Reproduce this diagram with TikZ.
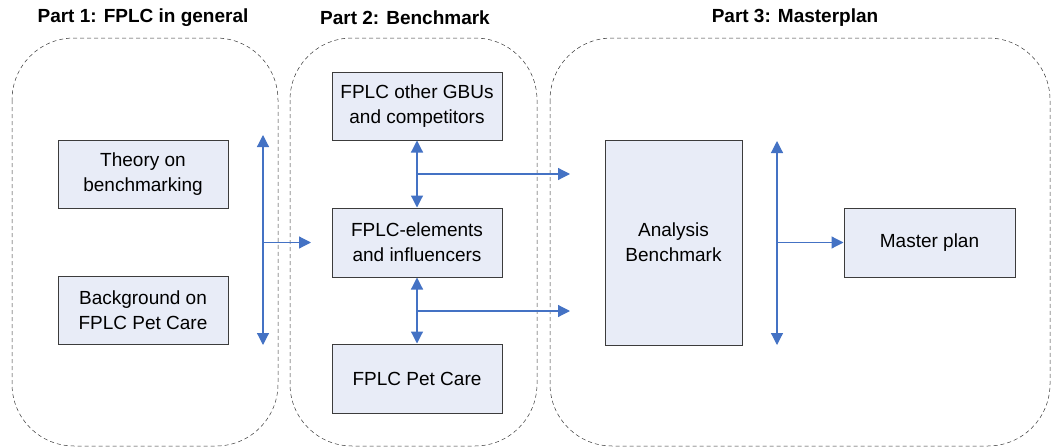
\documentclass[tikz,border=0pt]{standalone}
\usepackage{fontspec}
\setmainfont{Liberation Sans}
\usetikzlibrary{arrows.meta}
\definecolor{boxfill}{RGB}{232,236,247}
\definecolor{boxline}{RGB}{60,60,60}
\definecolor{arrowblue}{RGB}{68,114,196}
\definecolor{dashgray}{RGB}{50,50,50}
\tikzset{
  container/.style={draw=dashgray, line width=0.5pt, dash pattern=on 4pt off 3pt, rounded corners=62pt},
  box/.style={draw=boxline, fill=boxfill, line width=1pt, rectangle, inner sep=0pt, align=center,
    font=\fontsize{19}{25}\selectfont},
  title/.style={font=\fontsize{19}{22}\selectfont\bfseries, anchor=center},
  link/.style={draw=arrowblue, line width=1.2pt},
  tip/.style={-{Triangle[length=12pt,width=12pt]}},
  dtip/.style={{Triangle[length=12pt,width=12pt]}-{Triangle[length=12pt,width=12pt]}}
}
\begin{document}
\begin{tikzpicture}[x=1pt,y=-1pt]
\useasboundingbox (0,0) rectangle (1053,447);
% containers
\begin{scope}
\clip (0,0) rectangle (1053,447);
\draw[container] (12,38) rectangle (278,446);
\draw[container] (290,38) rectangle (537,446);
\draw[container] (550,38) rectangle (1050,446);
\end{scope}
% titles
\node[title] (t1) at (143,18) {Part 1: FPLC in general};
\node[title] (t2) at (405,18) {Part 2: Benchmark};
\node[title] (t3) at (795,18) {Part 3: Masterplan};
% boxes
\node[box, minimum width=170pt, minimum height=68pt] (theory) at (143,174) {Theory on\\benchmarking};
\node[box, minimum width=170pt, minimum height=68pt] (backg) at (143,310) {Background on\\FPLC Pet Care};
\node[box, minimum width=170pt, minimum height=68pt] (gbu) at (417,106) {FPLC other GBUs\\and competitors};
\node[box, minimum width=170pt, minimum height=69pt] (elem) at (417,242.5) {FPLC-elements\\and influencers};
\node[box, minimum width=170pt, minimum height=69pt] (pet) at (417,378.5) {FPLC Pet Care};
\node[box, minimum width=137pt, minimum height=205pt] (anal) at (673.5,242.5) {Analysis\\Benchmark};
\node[box, minimum width=171pt, minimum height=69pt] (master) at (929.5,242.5) {Master plan};
% part 1 arrows
\coordinate (p1t) at (263,135);
\coordinate (p1b) at (263,345);
\coordinate (p1m) at (263,242.5);
\coordinate (p1e) at (311,242.5);
\draw[link, dtip] (p1t) -- (p1b);
\draw[link, tip] (p1m) -- (p1e);
% part 2 arrows
\draw[link, dtip] (gbu.south) -- (elem.north);
\draw[link, dtip] (elem.south) -- (pet.north);
\coordinate (b1) at (417,174);
\coordinate (b1e) at (570,174);
\coordinate (b2) at (417,311);
\coordinate (b2e) at (570,311);
\draw[link, tip] (b1) -- (b1e);
\draw[link, tip] (b2) -- (b2e);
% part 3 arrows
\coordinate (p3t) at (777,141);
\coordinate (p3b) at (777,345);
\coordinate (p3m) at (777,242.5);
\draw[link, dtip] (p3t) -- (p3b);
\draw[link, tip] (p3m) -- (master.west);
\end{tikzpicture}
\end{document}
